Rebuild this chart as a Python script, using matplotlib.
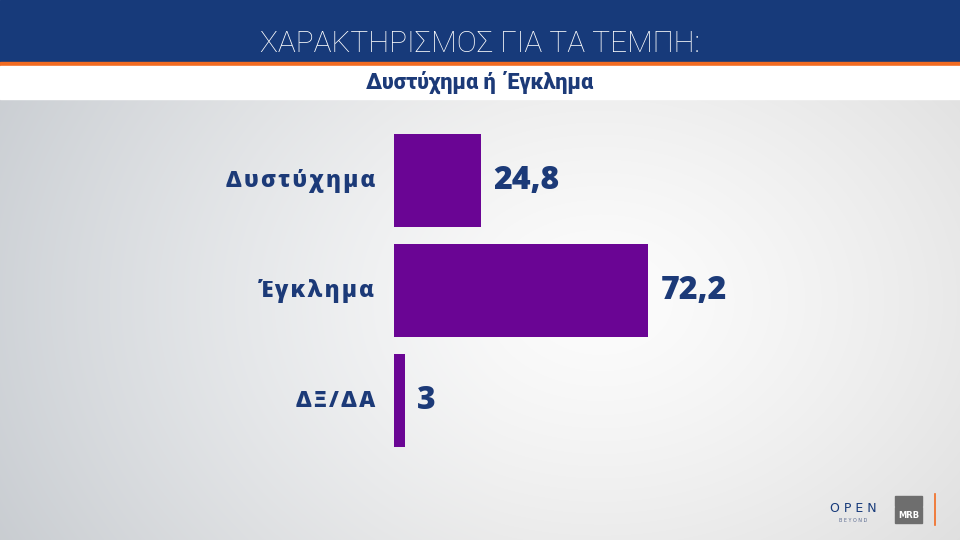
import numpy as np
import matplotlib
matplotlib.use("Agg")
import matplotlib.pyplot as plt
from matplotlib.patches import Rectangle

# data
categories = ["Δυστύχημα", "Έγκλημα", "ΔΞ/ΔΑ"]
values = [24.8, 72.2, 3]
value_labels = ["24,8", "72,2", "3"]
title = "ΧΑΡΑΚΤΗΡΙΣΜΟΣ ΓΙΑ ΤΑ ΤΕΜΠΗ:"
subtitle = "Δυστύχημα ή  Έγκλημα"

navy = "#173a7a"
text_blue = "#1c3a78"
purple = "#6a0594"
orange = "#f26b21"

W, H = 960, 540
fig = plt.figure(figsize=(9.6, 5.4), dpi=100)

# background: soft grey gradient, bluish on the left, white near centre
bg = fig.add_axes([0, 0, 1, 1])
yy, xx = np.mgrid[0:H, 0:W]
r = np.sqrt(((xx - 600) / 600.0) ** 2 + ((yy - 300) / 450.0) ** 2)
shade = np.clip(0.99 - 0.15 * r ** 1.3, 0.81, 0.99)
tint = np.clip((500 - xx) / 500.0, 0, 1) * 0.025
rgb = np.dstack([shade - tint, shade - tint * 0.4, shade + tint * 0.3]).clip(0, 1)
bg.imshow(rgb, extent=[0, W, H, 0], aspect="auto")
bg.set_xlim(0, W)
bg.set_ylim(H, 0)
bg.axis("off")

# header bands
bg.add_patch(Rectangle((0, 0), W, 62, color=navy, zorder=2))
bg.add_patch(Rectangle((0, 62), W, 4, color=orange, zorder=2))
bg.add_patch(Rectangle((0, 66), W, 33, color="white", zorder=2))
bg.text(480, 44, title, color="white", fontsize=21.5, family="Roboto", fontweight="light",
        ha="center", va="center", zorder=3)
bg.text(480, 82, subtitle, color=text_blue, fontsize=15.5, family="Roboto", fontweight="heavy",
        ha="center", va="center", zorder=3)

# logos
bg.text(853, 509, "O P E N", color=navy, fontsize=9, family="DejaVu Sans", ha="center", va="center")
bg.text(853, 520, "B E Y O N D", color="#5a6a90", fontsize=3.5, family="DejaVu Sans", ha="center", va="center")
bg.add_patch(Rectangle((895, 496), 27, 10, color="#6e6e6e", zorder=2))
bg.add_patch(Rectangle((895, 507), 27, 16, color="#6e6e6e", zorder=2))
bg.text(908.5, 516, "MRB", color="white", fontsize=6, fontweight="bold", ha="center", va="center", zorder=3)
bg.plot([935, 935], [494, 525], color=orange, lw=1.2)

# chart
px_per_unit = 3.52
ax = fig.add_axes([394 / W, (540 - 460) / H, 100 * px_per_unit / W, 340 / H])
ax.set_facecolor("none")
y = np.arange(len(categories))
ax.barh(y, values, height=0.84, color=purple)
ax.set_xlim(0, 100)
ax.set_ylim(2.54, -0.55)
ax.axis("off")

for yi, v, lab, cat in zip(y, values, value_labels, categories):
    ax.text(v + 3.5, yi, lab, color=text_blue, fontsize=23, family="Open Sans", fontweight="heavy",
            ha="left", va="center")
    spaced = "\u200a".join(cat)
    ax.text(-5.4, yi, spaced, color=text_blue, fontsize=16, family=["Open Sans", "DejaVu Sans"],
            fontweight="heavy", ha="right", va="center")

fig.savefig("out.png", dpi=100)
